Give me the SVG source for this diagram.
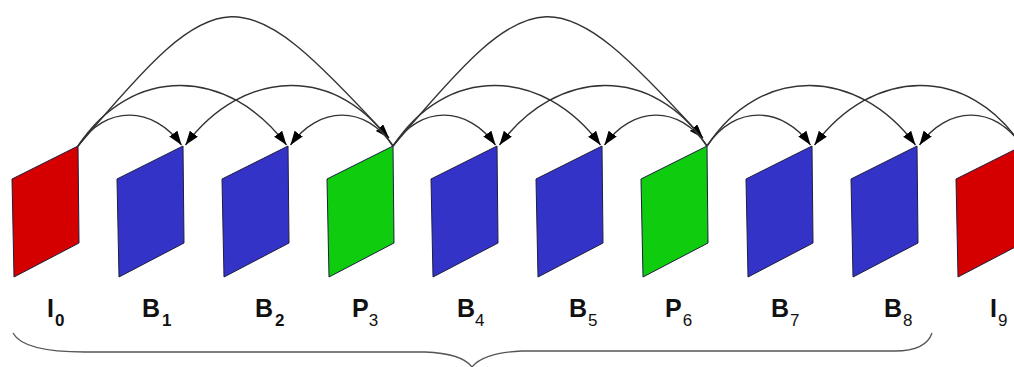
<svg xmlns="http://www.w3.org/2000/svg" width="1014" height="367" viewBox="0 0 1014 367">
<defs>
<style>
.frame{stroke:#1e1e3c;stroke-width:1;stroke-linejoin:miter}
.red{fill:#d40000}
.blue{fill:#3333c8}
.green{fill:#0fcc0f}
.arc{fill:none;stroke:#333;stroke-width:1.4;marker-end:url(#ah)}
.lbl{font-family:"Liberation Sans",Arial,sans-serif;font-weight:bold;font-size:25px;fill:#111}
.sb{font-size:17px}
.sn{font-size:17px;font-weight:normal}
.brace{fill:none;stroke:#555;stroke-width:1.3}
</style>
<marker id="ah" markerUnits="userSpaceOnUse" markerWidth="16" markerHeight="11" refX="14" refY="5" orient="auto">
<path d="M0,0 L14,5 L0,10 Z" fill="#000"/>
</marker>
</defs>
<rect width="1014" height="367" fill="#fff"/>
<g id="connectors">
<path class="arc" d="M78,146 C106,104 153.5,106 181.5,145"/>
<path class="arc" d="M78,146 C132,64 228.5,67 286.5,145"/>
<path class="arc" d="M78,146 C222,-25 239,-25 389,138"/>
<path class="arc" d="M393,146 C365,104 318.5,106 290.5,145"/>
<path class="arc" d="M393,146 C339,64 243.5,67 185.5,145"/>
<path class="arc" d="M393,146 C421,104 467.5,106 495.5,145"/>
<path class="arc" d="M393,146 C447,64 542.5,67 600.5,145"/>
<path class="arc" d="M393,146 C537,-25 554,-25 703,138"/>
<path class="arc" d="M707,146 C679,104 632.5,106 604.5,145"/>
<path class="arc" d="M707,146 C653,64 557.5,67 499.5,145"/>
<path class="arc" d="M707,146 C735,104 782.5,106 810.5,145"/>
<path class="arc" d="M707,146 C761,64 857.5,67 915.5,145"/>
<path class="arc" d="M1022,146 C994,104 947.5,106 919.5,145"/>
<path class="arc" d="M1022,146 C968,64 872.5,67 814.5,145"/>
</g>
<g id="I0"><polygon class="frame red" points="12,179 78,146 79,243 14,277"/><text class="lbl" x="47" y="317">I<tspan class="sb" dx="1" dy="9">0</tspan></text></g>
<g id="B1"><polygon class="frame blue" points="117,179 183,146 184,243 119,277"/><text class="lbl" x="142" y="317">B<tspan class="sb" dx="2" dy="9">1</tspan></text></g>
<g id="B2"><polygon class="frame blue" points="222,179 288,146 289,243 224,277"/><text class="lbl" x="255" y="317">B<tspan class="sb" dx="2" dy="9">2</tspan></text></g>
<g id="P3"><polygon class="frame green" points="327,179 393,146 394,243 329,277"/><text class="lbl" x="352" y="317">P<tspan class="sn" dx="0" dy="9">3</tspan></text></g>
<g id="B4"><polygon class="frame blue" points="431,179 497,146 498,243 433,277"/><text class="lbl" x="457" y="317">B<tspan class="sn" dx="0" dy="9">4</tspan></text></g>
<g id="B5"><polygon class="frame blue" points="536,179 602,146 603,243 538,277"/><text class="lbl" x="569" y="317">B<tspan class="sn" dx="1" dy="9">5</tspan></text></g>
<g id="P6"><polygon class="frame green" points="641,179 707,146 708,243 643,277"/><text class="lbl" x="665" y="317">P<tspan class="sn" dx="1" dy="9">6</tspan></text></g>
<g id="B7"><polygon class="frame blue" points="746,179 812,146 813,243 748,277"/><text class="lbl" x="771" y="317">B<tspan class="sn" dx="1" dy="9">7</tspan></text></g>
<g id="B8"><polygon class="frame blue" points="851,179 917,146 918,243 853,277"/><text class="lbl" x="884" y="317">B<tspan class="sn" dx="1" dy="9">8</tspan></text></g>
<g id="I9"><polygon class="frame red" points="956,179 1022,146 1023,243 958,277"/><text class="lbl" x="990" y="317">I<tspan class="sn" dx="1" dy="9">9</tspan></text></g>
<g id="brace"><path class="brace" d="M13,333 C20,346 45,352 85,352 L425,352 C452,353 466,359 472,367 C478,359 494,352 522,351 L895,351 C915,351 928,345 932,333"/></g>
</svg>
